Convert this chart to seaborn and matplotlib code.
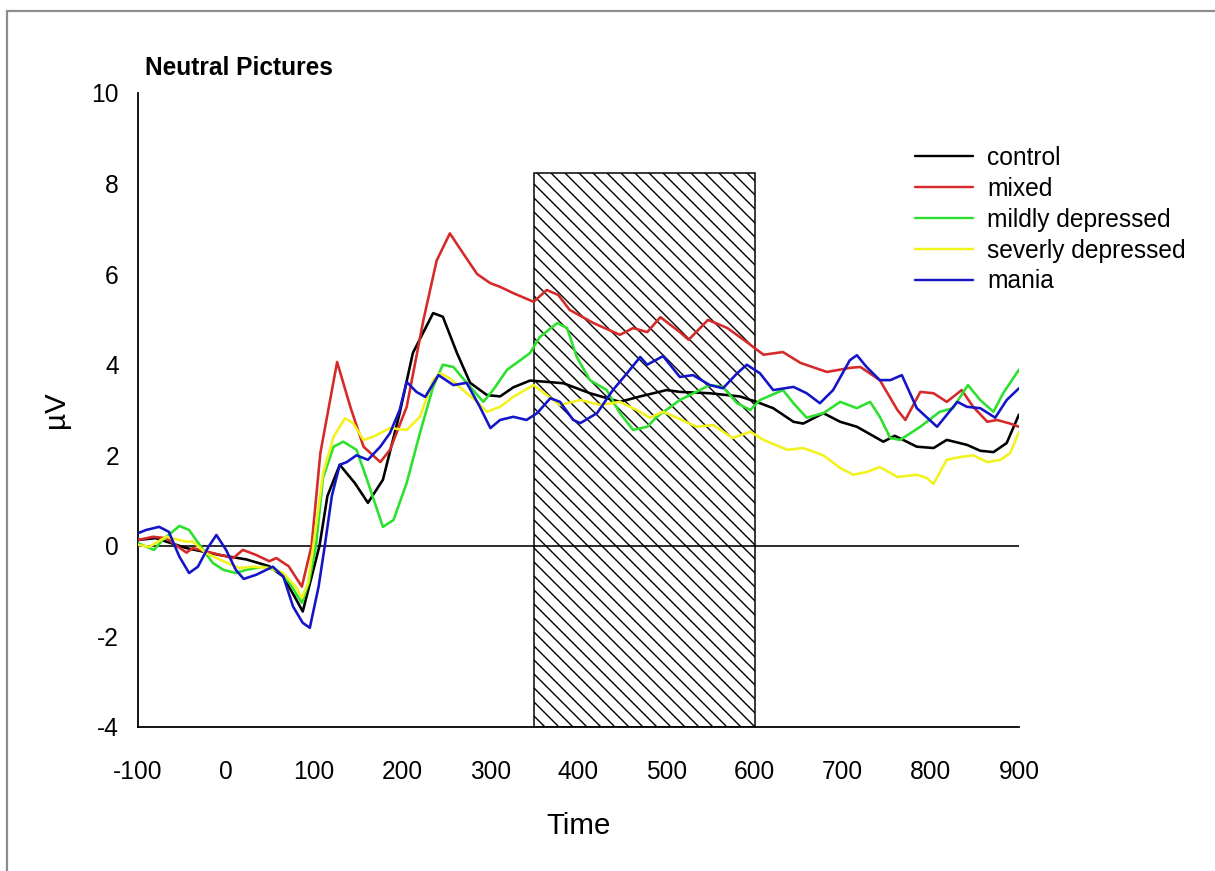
import numpy as np
import pandas as pd
import matplotlib
matplotlib.use("Agg")
import matplotlib.pyplot as plt
from matplotlib.patches import Rectangle
import seaborn as sns

# ---------------- data ----------------
groups = ["control", "mixed", "mildly depressed", "severly depressed", "mania"]
colors = ["#000000", "#d42a2a", "#2ee02e", "#f2f21e", "#1414c8"]

control_t = [-100, -80, -45, -8, 23, 49, 65, 80, 87, 106, 115, 129, 146, 161, 178,
             197, 212, 235, 246, 262, 277, 296, 311, 326, 345, 365, 383, 413, 447,
             470, 500, 515, 549, 583, 602, 621, 644, 655, 678, 697, 716, 746, 759,
             784, 803, 818, 841, 856, 871, 886, 900]
control_v = [0.13, 0.17, -0.05, -0.2, -0.3, -0.45, -0.68, -1.2, -1.45, 0.0, 1.1, 1.79,
             1.39, 0.95, 1.46, 2.93, 4.26, 5.14, 5.06, 4.26, 3.6, 3.33, 3.3, 3.5, 3.65,
             3.62, 3.59, 3.37, 3.18, 3.3, 3.44, 3.4, 3.37, 3.3, 3.18, 3.04, 2.74, 2.7,
             2.93, 2.74, 2.63, 2.3, 2.43, 2.19, 2.16, 2.34, 2.23, 2.1, 2.07, 2.27, 2.9]

mixed_t = [-100, -83, -68, -45, -38, -15, 8, 19, 34, 49, 57, 71, 86, 97, 107, 126,
           141, 156, 175, 186, 205, 224, 239, 254, 269, 285, 300, 311, 326, 349, 364,
           377, 390, 417, 447, 462, 478, 493, 515, 525, 547, 569, 591, 610, 632, 652,
           682, 708, 720, 742, 762, 771, 788, 803, 818, 835, 848, 864, 875, 890, 900]
mixed_v = [0.13, 0.2, 0.17, -0.15, -0.05, -0.16, -0.27, -0.09, -0.2, -0.34, -0.27,
           -0.45, -0.9, 0.0, 2.05, 4.06, 3.07, 2.19, 1.85, 2.12, 3.07, 4.99, 6.3, 6.9,
           6.46, 6.0, 5.8, 5.72, 5.58, 5.39, 5.65, 5.54, 5.21, 4.92, 4.66, 4.81, 4.72,
           5.05, 4.72, 4.55, 4.99, 4.81, 4.5, 4.22, 4.28, 4.04, 3.84, 3.93, 3.95, 3.66,
           3.0, 2.78, 3.4, 3.37, 3.18, 3.44, 3.07, 2.74, 2.78, 2.7, 2.63]

mild_t = [-100, -82, -72, -53, -42, -26, -15, -3, 11, 23, 42, 61, 72, 86, 94, 102,
          110, 122, 133, 148, 160, 178, 190, 205, 220, 235, 246, 258, 273, 292, 303,
          319, 334, 345, 356, 376, 387, 398, 413, 432, 447, 462, 478, 489, 515, 549,
          564, 580, 595, 606, 632, 644, 659, 678, 697, 716, 731, 742, 754, 765, 788,
          810, 825, 842, 856, 871, 882, 900]
mild_v = [0.06, -0.09, 0.13, 0.44, 0.35, -0.09, -0.38, -0.53, -0.6, -0.53, -0.46,
          -0.57, -0.82, -1.26, -0.8, 0.0, 1.5, 2.19, 2.3, 2.12, 1.46, 0.42, 0.57, 1.39,
          2.49, 3.51, 4.0, 3.95, 3.6, 3.18, 3.44, 3.89, 4.1, 4.26, 4.61, 4.92, 4.81,
          4.17, 3.66, 3.44, 2.93, 2.56, 2.63, 2.85, 3.22, 3.55, 3.51, 3.15, 3.0, 3.22,
          3.44, 3.15, 2.83, 2.93, 3.18, 3.04, 3.18, 2.85, 2.38, 2.34, 2.63, 2.96, 3.04,
          3.55, 3.22, 2.96, 3.37, 3.89]

severe_t = [-100, -87, -68, -45, -38, -23, -3, 15, 31, 49, 65, 80, 86, 93, 99, 110,
            122, 135, 144, 156, 167, 186, 205, 220, 235, 243, 254, 269, 285, 296, 311,
            326, 349, 364, 379, 402, 425, 447, 466, 481, 496, 515, 534, 553, 575, 595,
            610, 637, 655, 678, 697, 712, 727, 742, 762, 784, 795, 803, 818, 833, 848,
            864, 879, 890, 900]
severe_v = [0.02, -0.02, 0.2, 0.09, 0.1, -0.16, -0.34, -0.49, -0.46, -0.49, -0.6,
            -0.93, -1.15, -0.82, 0.0, 1.6, 2.41, 2.82, 2.71, 2.34, 2.41, 2.6, 2.56, 2.85,
            3.66, 3.81, 3.7, 3.44, 3.18, 2.96, 3.07, 3.29, 3.55, 3.33, 3.11, 3.22, 3.11,
            3.18, 3.0, 2.83, 2.96, 2.8, 2.63, 2.67, 2.38, 2.52, 2.34, 2.12, 2.16, 2.0,
            1.72, 1.57, 1.63, 1.74, 1.52, 1.57, 1.5, 1.37, 1.9, 1.96, 2.0, 1.85, 1.9,
            2.05, 2.52]

mania_t = [-100, -91, -76, -65, -53, -42, -32, -20, -11, 0, 11, 20, 34, 53, 65, 76,
           87, 95, 105, 112, 120, 129, 137, 148, 161, 175, 186, 197, 205, 216, 226, 241,
           258, 273, 288, 300, 311, 326, 341, 353, 368, 379, 394, 402, 421, 439, 455,
           470, 478, 496, 515, 530, 549, 564, 580, 591, 606, 621, 644, 659, 674, 689,
           708, 716, 727, 742, 754, 767, 784, 807, 830, 841, 856, 873, 886, 900]
mania_v = [0.28, 0.35, 0.42, 0.31, -0.24, -0.6, -0.46, -0.02, 0.24, -0.09, -0.53,
           -0.73, -0.64, -0.46, -0.68, -1.34, -1.7, -1.81, -0.9, 0.0, 1.1, 1.79, 1.85,
           2.0, 1.9, 2.19, 2.49, 3.0, 3.62, 3.4, 3.29, 3.77, 3.55, 3.6, 3.07, 2.6, 2.78,
           2.85, 2.78, 2.93, 3.26, 3.18, 2.78, 2.71, 2.93, 3.44, 3.81, 4.17, 4.0, 4.19,
           3.73, 3.77, 3.55, 3.48, 3.81, 4.0, 3.81, 3.44, 3.51, 3.37, 3.15, 3.44, 4.1,
           4.21, 3.95, 3.66, 3.66, 3.77, 3.04, 2.63, 3.18, 3.07, 3.04, 2.83, 3.22, 3.48]

window_start, window_end, window_top = 350, 600, 8.23
x_ticks = list(range(-100, 901, 100))
y_ticks = list(range(-4, 11, 2))
title_text = "Neutral Pictures"
x_label = "Time"
y_label = "\u00b5V"

# ---------------- build long table ----------------
series = [(control_t, control_v), (mixed_t, mixed_v), (mild_t, mild_v),
          (severe_t, severe_v), (mania_t, mania_v)]
frames = []
for g, (tt, vv) in zip(groups, series):
    frames.append(pd.DataFrame({"Time": tt, "value": vv, "group": g}))
df = pd.concat(frames, ignore_index=True)

# ---------------- styling ----------------
W, H, DPI = 1215, 871, 84
def pt(px):
    return px * 72.0 / DPI

sns.set_theme(style="white")
plt.rcParams["font.family"] = ["Liberation Sans", "DejaVu Sans"]
plt.rcParams["text.color"] = "black"
plt.rcParams["axes.labelcolor"] = "black"
plt.rcParams["xtick.color"] = "black"
plt.rcParams["ytick.color"] = "black"
plt.rcParams["hatch.linewidth"] = pt(1.4)
plt.rcParams["hatch.color"] = "black"

fig = plt.figure(figsize=(W / DPI, H / DPI), dpi=DPI)
fig.patch.set_facecolor("white")
ax_l, ax_r, ax_t, ax_b = 138, 1019, 93, 727
ax = fig.add_axes([ax_l / W, 1 - ax_b / H, (ax_r - ax_l) / W, (ax_b - ax_t) / H])

# hatched window
ax.add_patch(Rectangle((window_start, -4), window_end - window_start, window_top + 4,
                       facecolor="white", edgecolor="black", hatch="\\\\",
                       linewidth=pt(1.5), zorder=1))
# zero line
ax.plot([-100, 900], [0, 0], color="black", linewidth=pt(1.6), zorder=2)

sns.lineplot(data=df, x="Time", y="value", hue="group", hue_order=groups,
             palette=colors, estimator=None, linewidth=pt(2.6), ax=ax, zorder=3)

ax.set_xlim(-100, 900)
ax.set_ylim(-4, 10)
ax.set_xticks(x_ticks)
ax.set_yticks(y_ticks)
ax.set_xticklabels([str(v) for v in x_ticks])
ax.set_yticklabels([str(v) for v in y_ticks])
for s in ["top", "right"]:
    ax.spines[s].set_visible(False)
for s in ["left", "bottom"]:
    ax.spines[s].set_color("black")
    ax.spines[s].set_linewidth(pt(1.8))
ax.tick_params(axis="both", direction="out", length=pt(8), width=pt(1.8),
               colors="black", labelcolor="black", labelsize=pt(24.5))
ax.tick_params(axis="x", pad=pt(25))
ax.tick_params(axis="y", pad=pt(11))
ax.grid(False)

ax.set_xlabel(x_label, fontsize=pt(29.5), color="black")
ax.set_ylabel(y_label, fontsize=pt(29.5), color="black")
ax.xaxis.set_label_coords(0.5, (ax_b - 826) / (ax_b - ax_t))
ax.xaxis.label.set_va("center")
ax.yaxis.set_label_coords((56 - ax_l) / (ax_r - ax_l), 0.5)
ax.yaxis.label.set_va("center")

ax.set_title(title_text, loc="left", x=(145 - ax_l) / (ax_r - ax_l),
             y=(ax_b - 68) / (ax_b - ax_t), va="center", fontsize=pt(24.5),
             fontweight="bold", color="black", pad=0)

handles, labels = ax.get_legend_handles_labels()
leg = ax.legend(handles, labels, loc="upper left",
                bbox_to_anchor=(915 / W, 1 - 146 / H), bbox_transform=fig.transFigure,
                frameon=False, fontsize=pt(24.5), handlelength=2.35,
                handletextpad=0.6, labelspacing=0.28, borderpad=0, borderaxespad=0)
for line in leg.get_lines():
    line.set_linewidth(pt(2.4))
for txt in leg.get_texts():
    txt.set_color("black")

# outer grey frame
fig.add_artist(Rectangle((7 / W, -0.05), 1.1, 1 - 11 / H + 0.05,
                         transform=fig.transFigure, facecolor="none",
                         edgecolor="#8c8c8c", linewidth=pt(2.2), zorder=0))

fig.savefig("out.png", dpi=DPI, facecolor="white")
